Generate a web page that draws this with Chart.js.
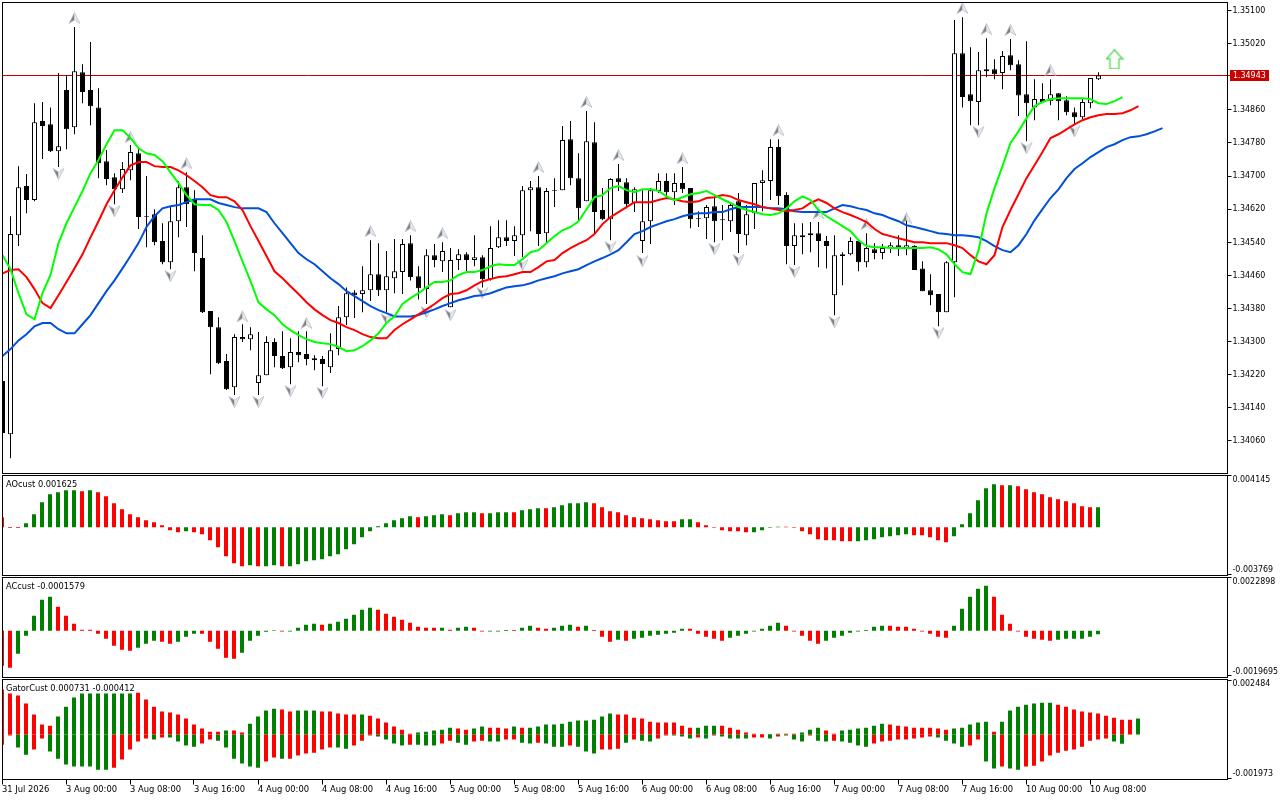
<!DOCTYPE html>
<html>
<head>
<meta charset="utf-8">
<title>EURUSD H1</title>
<script src="https://cdn.jsdelivr.net/npm/chart.js@4"></script>
<style>
  html, body { margin: 0; padding: 0; background: #fff; }
  body { width: 1280px; height: 800px; position: relative; overflow: hidden; }
  canvas { position: absolute; left: 0; }
  .ind-title { position: absolute; left: 6px; font: 9.2px/12px "DejaVu Sans Condensed", "Liberation Sans", sans-serif; color: #000; white-space: pre; }
</style>
</head>
<body>
<canvas id="mainChart" width="1280" height="475" style="top:0"></canvas>
<canvas id="aoChart" width="1280" height="103" style="top:474px"></canvas>
<canvas id="acChart" width="1280" height="103" style="top:576px"></canvas>
<canvas id="gatorChart" width="1280" height="122" style="top:678px"></canvas>
<div class="ind-title" style="top:478px">AOcust 0.001625</div>
<div class="ind-title" style="top:580px">ACcust -0.0001579</div>
<div class="ind-title" style="top:682px">GatorCust 0.000731 -0.000412</div>
<script>
// ── Prices, in points (1 point = 0.00001) ──

const opens = [134205,134076,134557,134676,134642,134833,134825,134760,134908,134818,
  134951,134908,134866,134736,134697,134668,134714,134755,134603,134608,
  134543,134492,134591,134673,134642,134502,134374,134335,134253,134190,
  134311,134306,134200,134219,134299,134265,134238,134275,134270,134260,
  134258,134238,134282,134359,134419,134415,134424,134463,134424,134453,
  134468,134538,134458,134427,134509,134494,134383,134497,134511,134497,
  134504,134451,134528,134552,134543,134557,134666,134673,134562,134666,
  134666,134789,134695,134639,134782,134618,134596,134695,134685,134635,
  134543,134591,134664,134688,134661,134683,134671,134598,134598,134627,
  134596,134591,134639,134557,134610,134683,134688,134770,134654,134531,
  134557,134557,134562,134543,134412,134507,134511,134543,134492,134523,
  134514,134526,134533,134523,134531,134477,134424,134415,134371,134492,
  134997,134898,134879,134958,134958,134949,134992,134970,134898,134866,
  134886,134881,134900,134883,134854,134842,134876,134934];
const highs = [134205,134603,134724,134705,134876,134879,134866,134949,134944,135060,
  134970,135024,134912,134763,134707,134734,134775,134767,134700,134620,
  134586,134625,134688,134709,134666,134557,134374,134359,134270,134318,
  134342,134335,134323,134313,134308,134325,134308,134325,134325,134267,
  134265,134320,134386,134431,134424,134482,134545,134538,134519,134548,
  134548,134557,134482,134523,134536,134540,134526,134523,134516,134557,
  134509,134579,134593,134593,134579,134676,134688,134700,134671,134695,
  134821,134833,134755,134857,134830,134671,134695,134729,134695,134673,
  134666,134671,134707,134707,134707,134722,134671,134615,134630,134647,
  134630,134635,134659,134630,134683,134714,134789,134789,134661,134586,
  134586,134589,134589,134555,134557,134516,134552,134543,134562,134538,
  134536,134540,134557,134593,134533,134494,134463,134415,134494,135077,
  135084,135011,135000,135033,134982,135002,135031,134980,135026,134934,
  134924,134934,134900,134893,134866,134888,134937,134951];
const lows = [134079,134018,134531,134610,134639,134741,134758,134722,134765,134801,
  134876,134823,134695,134678,134632,134659,134690,134572,134528,134533,
  134487,134475,134552,134577,134470,134369,134221,134246,134183,134171,
  134299,134279,134171,134219,134238,134234,134197,134250,134243,134231,
  134192,134224,134267,134340,134357,134371,134398,134410,134371,134417,
  134415,134448,134402,134391,134480,134468,134383,134473,134468,134482,
  134431,134448,134526,134531,134507,134504,134567,134531,134540,134625,
  134666,134678,134593,134639,134562,134593,134545,134664,134622,134613,
  134514,134536,134659,134647,134630,134659,134574,134577,134548,134540,
  134545,134565,134514,134533,134572,134615,134642,134630,134487,134485,
  134511,134516,134480,134477,134364,134436,134509,134470,134480,134499,
  134499,134514,134507,134509,134473,134422,134388,134337,134371,134407,
  134866,134823,134823,134939,134934,134910,134956,134845,134784,134835,
  134879,134871,134835,134847,134825,134837,134864,134932];
const closes = [134079,134560,134673,134642,134830,134821,134760,134772,134813,134953,
  134903,134869,134731,134693,134668,134717,134758,134601,134601,134540,
  134492,134591,134673,134632,134514,134371,134335,134248,134185,134311,
  134306,134318,134219,134299,134265,134236,134275,134267,134258,134255,
  134246,134279,134359,134417,134412,134424,134463,134424,134458,134470,
  134536,134456,134429,134509,134497,134519,134497,134511,134497,134504,
  134451,134526,134552,134543,134557,134666,134673,134560,134664,134664,
  134787,134695,134622,134784,134613,134596,134693,134685,134632,134668,
  134591,134666,134688,134661,134683,134668,134596,134596,134625,134591,
  134593,134630,134560,134608,134683,134690,134770,134651,134531,134557,
  134552,134562,134543,134531,134509,134511,134543,134492,134526,134514,
  134526,134533,134523,134533,134473,134422,134412,134371,134492,134997,
  134891,134881,134956,134953,134946,134990,134968,134895,134876,134886,
  134879,134898,134881,134854,134842,134879,134937,134943];

// ── Alligator lines, in points ──

const lipsLine = [134509,134475,134417,134366,134354,134417,134461,134538,134586,134625,
  134664,134707,134739,134777,134811,134811,134792,134767,134755,134751,
  134736,134709,134683,134654,134632,134630,134630,134618,134589,134543,
  134494,134446,134395,134378,134364,134342,134328,134316,134306,134299,
  134296,134294,134287,134277,134279,134289,134303,134320,134345,134361,
  134391,134405,134417,134431,134444,134444,134448,134461,134468,134468,
  134473,134482,134487,134485,134485,134499,134516,134521,134538,134555,
  134569,134577,134591,134620,134649,134654,134671,134676,134666,134661,
  134668,134668,134664,134651,134642,134649,134656,134659,134664,134654,
  134644,134635,134625,134618,134613,134608,134606,134610,134622,134639,
  134651,134642,134618,134603,134591,134579,134567,134545,134531,134528,
  134528,134526,134526,134526,134526,134526,134528,134523,134511,134487,
  134468,134463,134521,134610,134671,134724,134780,134808,134840,134869,
  134879,134886,134888,134888,134888,134888,134886,134876,134874,134881,134891];
const teethLine = [134465,134473,134475,134456,134427,134393,134381,134412,134444,134477,
  134511,134552,134591,134632,134666,134697,134726,134734,134734,134724,
  134722,134722,134714,134702,134688,134673,134654,134649,134649,134639,
  134618,134579,134543,134507,134470,134453,134434,134415,134395,134378,
  134364,134352,134345,134335,134328,134318,134311,134308,134308,134328,
  134342,134354,134366,134378,134391,134405,134415,134417,134424,134436,
  134446,134451,134456,134458,134463,134468,134468,134480,134494,134497,
  134514,134526,134536,134545,134560,134584,134601,134613,134625,134637,
  134637,134637,134642,134647,134644,134639,134637,134639,134647,134649,
  134654,134651,134642,134637,134632,134625,134622,134618,134615,134618,
  134622,134635,134644,134635,134622,134613,134606,134598,134589,134572,
  134560,134555,134550,134545,134540,134540,134538,134538,134538,134533,
  134526,134509,134494,134487,134509,134577,134618,134656,134695,134726,
  134758,134792,134801,134813,134825,134835,134842,134847,134850,134850,
  134852,134859,134869];
const jawLine = [134265,134282,134303,134318,134337,134345,134345,134330,134320,134320,
  134342,134364,134393,134422,134448,134477,134507,134538,134577,134603,
  134622,134627,134630,134637,134644,134644,134644,134635,134630,134625,
  134622,134622,134622,134613,134586,134562,134538,134514,134499,134487,
  134470,134453,134439,134422,134410,134398,134386,134376,134369,134361,
  134361,134361,134364,134371,134378,134386,134393,134400,134405,134410,
  134412,134417,134424,134431,134434,134436,134441,134448,134453,134458,
  134465,134470,134475,134485,134494,134502,134511,134521,134540,134560,
  134567,134577,134584,134591,134596,134603,134608,134610,134610,134613,
  134613,134620,134625,134625,134625,134625,134622,134622,134620,134615,
  134613,134613,134613,134613,134622,134630,134627,134622,134618,134610,
  134606,134598,134591,134581,134577,134572,134567,134562,134560,134557,
  134557,134555,134552,134543,134531,134521,134516,134533,134560,134593,
  134620,134647,134668,134695,134717,134731,134746,134758,134770,134777,
  134787,134794,134796,134801,134808,134816];

// ── Fractals and the signal arrow ──

const upFractalBars = [9,16,23,30,38,46,51,55,67,73,77,85,97,102,108,113,120,123,126,131];
const upFractalPrices = [135082,134794,134731,134361,134345,134567,134579,134562,134722,134879,134751,134743,134811,134610,134584,134598,135106,135055,135053,134956];
const downFractalBars = [7,14,21,29,32,36,40,48,53,56,60,65,76,80,89,92,99,104,117,122,128,134];
const downFractalPrices = [134705,134615,134458,134154,134154,134180,134176,134354,134371,134364,134417,134485,134528,134494,134523,134497,134468,134347,134320,134806,134767,134808];
const signalBar = 139;
const signalPrice = 134982;
const lastPrice = 134943;

// ── Indicators (AO and Gator in 1e-6, AC in 1e-7). 1 = green bar ──

const aoValues = [808,-60,-60,323,1050,2019,2665,2827,2988,2988,
  2907,2988,2827,2504,1938,1454,1050,808,565,404,
  162,-242,-404,-323,-404,-565,-1050,-1615,-2342,-2907,
  -3150,-3069,-3150,-3150,-3069,-3150,-3150,-2988,-2746,-2665,
  -2584,-2342,-2181,-1777,-1373,-808,-323,81,323,565,
  727,888,808,888,969,1050,969,1131,1211,1211,
  1131,1131,1211,1211,1211,1373,1454,1534,1534,1615,
  1777,1938,1938,2019,1938,1615,1292,1211,969,808,
  727,646,565,485,485,646,646,404,162,-40,
  -242,-323,-323,-404,-404,-242,-40,40,40,-40,
  -323,-565,-969,-1050,-1050,-1131,-1131,-1131,-1050,-969,
  -808,-727,-646,-565,-646,-646,-808,-1050,-1211,-727,
  242,1131,2181,3150,3473,3392,3392,3311,3069,2827,
  2665,2423,2261,2100,1938,1696,1615,1625];
const aoRising = [0,0,0,1,1,1,1,1,1,1, 0,1,0,0,0,0,0,0,0,0,
  0,0,0,1,0,0,0,0,0,0, 0,1,0,1,1,0,1,1,1,1,
  1,1,1,1,1,1,1,1,1,1, 1,1,0,1,1,1,0,1,1,1,
  0,1,1,1,0,1,1,1,0,1, 1,1,1,1,0,0,0,0,0,0,
  0,0,0,0,0,1,1,0,0,0, 0,0,0,0,1,1,1,1,0,0,
  0,0,0,0,0,0,0,1,1,1, 1,1,1,1,0,0,0,0,0,1,
  1,1,1,1,1,0,1,0,0,0, 0,0,0,0,0,0,0,1];
const aoTicks = [0.004145, -0.003769];

const acValues = [-15211,-16080,-9996,-2173,6519,13473,14776,10430,6519,3042,
  435,435,-1304,-3477,-6519,-8257,-8692,-7388,-5650,-4346,
  -4781,-5650,-4781,-2608,-1304,-1304,-4781,-7823,-11734,-12169,
  -9561,-4346,-2173,-435,217,-304,-304,1304,2608,3042,
  2608,3042,3911,5215,6954,9127,9996,9127,7388,6084,
  4781,3477,1738,1304,1304,1304,435,1304,1738,1304,
  -304,-304,-304,304,304,1304,2173,1304,869,1304,
  2173,2608,1738,2173,304,-2608,-4781,-3911,-4346,-3477,
  -3042,-2173,-1738,-1304,-869,869,869,-1304,-2608,-3477,
  -4346,-3042,-2173,-1304,-304,869,2173,3477,2173,-304,
  -2173,-4346,-5650,-4346,-3042,-2173,-869,-304,304,1738,
  2173,2173,1738,1738,869,-304,-1304,-2608,-3042,2173,
  9561,14776,18253,19557,14776,6954,3042,-304,-2608,-3477,
  -3911,-4346,-3911,-3477,-3477,-3477,-2608,-1579];
const acRising = [0,0,1,1,1,1,1,0,0,0, 0,0,0,0,0,0,0,1,1,1,
  0,0,1,1,1,0,0,0,0,0, 1,1,1,1,1,0,1,1,1,1,
  0,1,1,1,1,1,1,0,0,0, 0,0,0,0,0,1,0,1,1,0,
  0,1,1,1,0,1,1,0,0,1, 1,1,0,1,0,0,0,1,0,1,
  1,1,1,1,1,1,0,0,0,0, 0,1,1,1,1,1,1,1,0,0,
  0,0,0,1,1,1,1,1,1,1, 1,0,0,0,0,0,0,0,0,1,
  1,1,1,1,0,0,0,0,0,0, 0,0,1,1,1,1,1,1];
const acTicks = [0.0022898, -0.0019695];

const gatorUpper = [2047,1865,1774,1410,910,455,409,819,1273,1683,
  1865,1865,1865,1865,1865,1865,1865,1910,1592,1273,
  1046,1001,910,728,455,273,136,136,182,182,
  91,500,819,1092,1182,1137,1046,1092,1092,1092,
  1046,1046,955,910,910,910,864,728,546,364,
  227,45,91,136,182,227,318,273,227,273,
  364,318,318,273,364,318,318,364,455,455,
  500,591,637,637,682,819,955,910,910,773,
  728,591,546,546,546,409,318,318,409,409,
  409,318,227,91,45,23,23,45,45,45,
  91,227,318,182,45,182,227,273,318,409,
  500,455,409,364,318,318,318,273,227,273,
  318,455,546,591,136,591,1092,1273,1364,1410,
  1455,1455,1364,1273,1137,1046,1001,955,864,773,
  682,682,731];
const gatorUpperRising = [0,0,0,0,0,0,0,1,1,1, 1,1,1,1,1,1,1,0,0,0,
  0,0,0,0,0,0,0,0,1,0, 0,1,1,1,1,0,0,1,1,1,
  0,0,0,0,0,1,0,0,0,0, 0,0,1,1,1,1,1,0,0,1,
  1,0,0,0,1,0,1,1,1,1, 1,1,1,1,1,1,1,0,0,0,
  0,0,0,0,0,0,0,1,1,1, 0,0,0,0,0,0,1,1,1,0,
  1,1,1,0,0,1,1,1,1,1, 1,0,0,0,0,0,0,0,0,1,
  1,1,1,1,0,1,1,1,1,1, 1,1,0,0,0,0,0,0,0,0,
  0,0,1];
const gatorLower = [-455,-45,-591,-910,-682,-182,-773,-1092,-1364,-1455,
  -1455,-1455,-1592,-1592,-1501,-1137,-682,-318,-182,-227,
  -136,-136,-318,-500,-546,-409,-227,-273,-591,-1092,
  -1319,-1455,-1501,-1228,-1046,-1092,-1092,-955,-864,-819,
  -682,-591,-591,-637,-500,-273,-45,-91,-227,-409,
  -500,-455,-455,-500,-500,-409,-273,-364,-455,-318,
  -273,-318,-318,-227,-227,-364,-409,-364,-409,-546,
  -546,-500,-546,-773,-864,-682,-682,-637,-364,-227,
  -273,-318,-182,-45,-45,-91,-182,-136,-182,-45,
  -91,-182,-182,-182,-136,-136,-182,-91,-45,-227,
  -318,-45,-273,-318,-273,-318,-364,-500,-546,-409,
  -318,-273,-227,-227,-182,-136,-91,-136,-273,-409,
  -546,-500,-227,-1228,-1546,-1455,-1546,-1592,-1455,-1410,
  -1228,-955,-819,-728,-682,-546,-273,-227,-182,-318,
  -412,0,0];
const gatorLowerRising = [0,0,1,1,0,0,1,1,1,1, 1,1,1,1,0,0,0,0,0,1,
  0,1,1,1,1,0,0,1,1,1, 1,1,1,0,0,1,0,0,0,0,
  0,0,1,1,0,0,0,1,1,1, 1,0,1,1,1,0,0,1,1,0,
  0,1,1,0,0,1,1,0,1,1, 1,0,1,1,1,0,0,0,1,0,
  1,1,0,0,1,1,1,0,1,0, 1,1,1,1,0,0,1,0,0,1,
  1,0,1,1,0,1,1,1,1,0, 0,0,0,0,0,0,0,1,1,1,
  1,0,0,1,1,0,1,1,0,0, 0,0,0,0,0,0,0,0,0,1,
  1,0,0];
const gatorTicks = [0.002484, -0.001973];

// ── Axis labels ──

const priceTicks = [135100,135020,134860,134780,134700,134620,134540,134460,134380,134300,134220,134140,134060];
const timeTickBars = [0,8,16,24,32,40,48,56,64,72,80,88,96,104,112,120,128,136];
const timeTickLabels = ['31 Jul 2026','3 Aug 00:00','3 Aug 08:00','3 Aug 16:00','4 Aug 00:00','4 Aug 08:00','4 Aug 16:00',
  '5 Aug 00:00','5 Aug 08:00','5 Aug 16:00','6 Aug 00:00','6 Aug 08:00','6 Aug 16:00',
  '7 Aug 00:00','7 Aug 08:00','7 Aug 16:00','10 Aug 00:00','10 Aug 08:00'];

// ── Helpers ──

const FONT = '"DejaVu Sans Condensed", "Liberation Sans", sans-serif';
const GREEN = '#008000';
const RED = '#ff0000';
const AXIS_WIDTH = 52.5;

Chart.defaults.animation = false;
Chart.defaults.responsive = false;
Chart.defaults.devicePixelRatio = 1;
Chart.defaults.plugins.legend.display = false;
Chart.defaults.plugins.tooltip.enabled = false;
Chart.defaults.layout.autoPadding = false;

const pts = v => v / 1e5;

function series(values) {
  return values.map((v, i) => ({ x: i, y: pts(v) }));
}

function noScalePadding(scale) {
  scale.paddingTop = scale.paddingBottom = scale.paddingLeft = scale.paddingRight = 0;
}

function rightAxis(min, max, ticks, label) {
  return {
    position: 'right', min, max,
    afterBuildTicks: scale => { scale.ticks = ticks.map(value => ({ value })); },
    afterFit: scale => { scale.width = AXIS_WIDTH; noScalePadding(scale); },
    border: { display: false },
    grid: { drawOnChartArea: false, drawTicks: true, tickLength: 4, tickColor: '#000' },
    ticks: { autoSkip: false, padding: 1, color: '#000', font: { family: FONT, size: 8.8, lineHeight: '8px' }, callback: label },
  };
}

// Labels of the two end ticks sit a little inside the panel
function endLabel(ticks, digits) {
  return value => value === ticks[0] ? ['', value.toFixed(digits)] : [value.toFixed(digits), ''];
}

const framePlugin = {
  id: 'frame',
  afterDraw(chart) {
    const a = chart.chartArea, ctx = chart.ctx;
    ctx.save();
    ctx.strokeStyle = '#000';
    ctx.lineWidth = 1;
    ctx.strokeRect(a.left, a.top, a.right - a.left, a.bottom - a.top);
    ctx.restore();
  }
};

const priceTagPlugin = {
  id: 'priceTag',
  afterDraw(chart) {
    const ctx = chart.ctx, y = chart.scales.y.getPixelForValue(pts(lastPrice));
    ctx.save();
    ctx.fillStyle = '#c80000';
    ctx.fillRect(chart.chartArea.right + 0.5, y - 0.5, 3, 1);
    ctx.fillRect(1230, y - 5.5, 39, 11);
    ctx.fillStyle = '#fff';
    ctx.font = '8.8px ' + FONT;
    ctx.textBaseline = 'middle';
    ctx.fillText(pts(lastPrice).toFixed(5), 1233, y + 0.5);
    ctx.restore();
  }
};

function fractalImage(up) {
  const c = document.createElement('canvas');
  c.width = 13; c.height = 12;
  const g = c.getContext('2d');
  if (!up) { g.translate(0, 12); g.scale(1, -1); }
  g.beginPath(); g.moveTo(6.5, 0.5); g.lineTo(6.5, 8); g.lineTo(1, 11.5); g.closePath();
  g.fillStyle = '#808080'; g.fill();
  g.beginPath(); g.moveTo(6.5, 0.5); g.lineTo(6.5, 8); g.lineTo(12, 11.5); g.closePath();
  g.fillStyle = '#e8e8e8'; g.fill();
  g.strokeStyle = '#b8c2d2'; g.lineWidth = 0.8;
  g.beginPath(); g.moveTo(6.5, 0.5); g.lineTo(12, 11.5); g.lineTo(6.5, 8); g.lineTo(1, 11.5); g.closePath(); g.stroke();
  return c;
}

function signalImage() {
  const c = document.createElement('canvas');
  c.width = 18; c.height = 20;
  const g = c.getContext('2d');
  g.beginPath();
  g.moveTo(9, 0.5); g.lineTo(17, 9.5); g.lineTo(13.5, 9.5); g.lineTo(13.5, 19.5);
  g.lineTo(4.5, 19.5); g.lineTo(4.5, 9.5); g.lineTo(1, 9.5); g.closePath();
  g.strokeStyle = '#5fd85f'; g.lineWidth = 1.4; g.stroke();
  return c;
}

// ── Main price panel ──

const x_main = { type: 'linear', display: false, offset: false, min: 0, max: 153.125 };

new Chart(document.getElementById('mainChart'), {
  type: 'bar',
  data: {
    datasets: [
      { type: 'line', label: 'Lips', order: 1, data: series(lipsLine), borderColor: '#00ff00', borderWidth: 2, pointRadius: 0, tension: 0 },
      { type: 'line', label: 'Teeth', order: 2, data: series(teethLine), borderColor: '#ff0000', borderWidth: 2, pointRadius: 0, tension: 0 },
      { type: 'line', label: 'Jaw', order: 3, data: series(jawLine), borderColor: '#0050d8', borderWidth: 2, pointRadius: 0, tension: 0 },
      { type: 'line', label: 'Fractal up', order: 4, showLine: false, pointRadius: 6, pointStyle: fractalImage(true),
        data: upFractalBars.map((b, i) => ({ x: b, y: pts(upFractalPrices[i]) })) },
      { type: 'line', label: 'Fractal down', order: 4, showLine: false, pointRadius: 6, pointStyle: fractalImage(false),
        data: downFractalBars.map((b, i) => ({ x: b, y: pts(downFractalPrices[i]) })) },
      { type: 'line', label: 'Signal', order: 4, showLine: false, pointRadius: 8, pointStyle: signalImage(),
        data: [{ x: signalBar, y: pts(signalPrice) }] },
      { label: 'Body', order: 6, grouped: false, barThickness: 5, borderWidth: 1, borderColor: '#000', borderSkipped: false, inflateAmount: 0,
        backgroundColor: ctx => closes[ctx.dataIndex] >= opens[ctx.dataIndex] ? '#fff' : '#000',
        data: opens.map((o, i) => ({ x: i, y: [pts(o), pts(closes[i])] })) },
      { label: 'Wick', order: 7, grouped: false, barThickness: 1, borderWidth: 0, inflateAmount: 0, backgroundColor: '#000',
        data: highs.map((h, i) => ({ x: i, y: [pts(lows[i]), pts(h)] })) },
      { type: 'line', label: 'Last', order: 8, borderColor: '#c80000', borderWidth: 1, pointRadius: 0,
        data: [{ x: 0, y: pts(lastPrice) }, { x: 153.125, y: pts(lastPrice) }] },
    ]
  },
  options: {
    layout: { padding: { top: 2.5, bottom: 1.5, left: 2.5, right: 0 } },
    scales: {
      x: x_main,
      y: rightAxis(1.339814, 1.351194, priceTicks.map(pts), v => v.toFixed(5)),
    },
  },
  plugins: [framePlugin, priceTagPlugin],
});

// ── Indicator panels ──

const xHist = { type: 'linear', display: false, offset: false, min: 0.0625, max: 153.1875 };

function histogram(values, unit, rising) {
  return {
    grouped: false, barThickness: 4, borderWidth: 0, inflateAmount: 0,
    backgroundColor: ctx => rising[ctx.dataIndex] ? GREEN : RED,
    data: values.map((v, i) => ({ x: i, y: v * unit })),
  };
}

new Chart(document.getElementById('aoChart'), {
  type: 'bar',
  data: { datasets: [histogram(aoValues, 1e-6, aoRising)] },
  options: {
    layout: { padding: { top: 1.5, bottom: 1.5, left: 2.5, right: 0 } },
    scales: { x: xHist, y: rightAxis(-0.00389, 0.004185, aoTicks, endLabel(aoTicks, 6)) },
  },
  plugins: [framePlugin],
});

new Chart(document.getElementById('acChart'), {
  type: 'bar',
  data: { datasets: [histogram(acValues, 1e-7, acRising)] },
  options: {
    layout: { padding: { top: 1.5, bottom: 1.5, left: 2.5, right: 0 } },
    scales: { x: xHist, y: rightAxis(-0.0020347, 0.0023115, acTicks, endLabel(acTicks, 7)) },
  },
  plugins: [framePlugin],
});

new Chart(document.getElementById('gatorChart'), {
  type: 'bar',
  data: { datasets: [histogram(gatorUpper, 1e-6, gatorUpperRising), histogram(gatorLower, 1e-6, gatorLowerRising)] },
  options: {
    layout: { padding: { top: 1.5, bottom: 0, left: 2.5, right: 0 } },
    scales: {
      x: {
        type: 'linear', offset: false, min: 0.0625, max: 153.1875,
        afterBuildTicks: scale => { scale.ticks = timeTickBars.map(value => ({ value })); },
        afterFit: scale => { scale.height = 20.5; noScalePadding(scale); },
        border: { display: false },
        grid: { drawOnChartArea: false, drawTicks: true, tickLength: 5, tickColor: '#000', offset: false },
        ticks: {
          autoSkip: false, maxRotation: 0, align: 'start', padding: 0, color: '#000',
          font: { family: FONT, size: 9.3 },
          callback: value => timeTickLabels[timeTickBars.indexOf(value)],
        },
      },
      y: rightAxis(-0.002041, 0.002507, gatorTicks, endLabel(gatorTicks, 6)),
    },
  },
  plugins: [framePlugin],
});
</script>
</body>
</html>
